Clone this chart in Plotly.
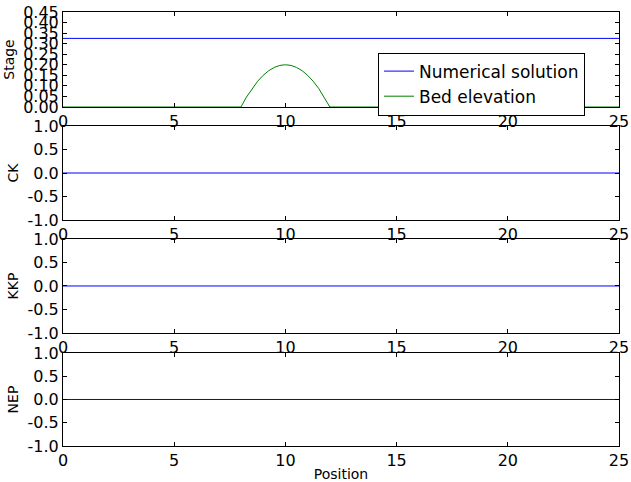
import plotly.graph_objects as go
from plotly.subplots import make_subplots

# ---- data ----
positions = [0, 25]
stage = [0.325, 0.325]
bed_x = [0, 8, 8.25, 8.5, 8.75, 9, 9.25, 9.5, 9.75, 10, 10.25, 10.5, 10.75, 11, 11.25, 11.5, 11.75, 12, 25]
bed_z = [0, 0, 0.047, 0.0875, 0.122, 0.15, 0.172, 0.1875, 0.197, 0.2, 0.197, 0.1875, 0.172, 0.15, 0.122, 0.0875, 0.047, 0, 0]
ck = [0.0, 0.0]
kkp = [0.0, 0.0]
nep = [0.0, 0.0]

panel_titles = ["Stage", "CK", "KKP", "NEP"]
x_ticks = [0, 5, 10, 15, 20, 25]
stage_ticks = [0.00, 0.05, 0.10, 0.15, 0.20, 0.25, 0.30, 0.35, 0.40, 0.45]
stage_tick_text = ["0.00", "0.05", "0.10", "0.15", "0.20", "0.25", "0.30", "0.35", "0.40", "0.45"]
err_ticks = [-1.0, -0.5, 0.0, 0.5, 1.0]
err_tick_text = ["-1.0", "-0.5", "0.0", "0.5", "1.0"]

BLUE = "#0000ff"
GREEN = "#008000"
FONT = "DejaVu Sans"

fig = make_subplots(rows=4, cols=1)

fig.add_trace(go.Scatter(x=positions, y=stage, mode="lines", name="Numerical solution",
                         line=dict(color=BLUE, width=1)), row=1, col=1)
fig.add_trace(go.Scatter(x=bed_x, y=bed_z, mode="lines", name="Bed elevation",
                         line=dict(color=GREEN, width=1)), row=1, col=1)
for i, series in enumerate([ck, kkp, nep]):
    fig.add_trace(go.Scatter(x=positions, y=series, mode="lines", showlegend=False,
                             line=dict(color=BLUE, width=1)), row=i + 2, col=1)

domains = [[0.7811, 1.0], [0.5207, 0.7373], [0.2604, 0.4770], [0.0, 0.2143]]

axis_common = dict(showline=True, linecolor="black", linewidth=1, mirror="ticks",
                   ticks="inside", ticklen=4, tickcolor="black", tickwidth=1,
                   showgrid=False, zeroline=False, showspikes=False,
                   tickfont=dict(family=FONT, size=16, color="black"))

for i in range(4):
    xa = "xaxis" if i == 0 else f"xaxis{i+1}"
    ya = "yaxis" if i == 0 else f"yaxis{i+1}"
    xkw = dict(axis_common, range=[0, 25], tickvals=x_ticks, ticktext=[str(t) for t in x_ticks],
               domain=[0, 1], automargin=False)
    if i == 3:
        xkw["title"] = dict(text="Position", font=dict(family=FONT, size=14, color="black"), standoff=0)
    fig.layout[xa].update(xkw)
    if i == 0:
        ykw = dict(axis_common, range=[0, 0.45], tickvals=stage_ticks, ticktext=stage_tick_text)
    else:
        ykw = dict(axis_common, range=[-1, 1], tickvals=err_ticks, ticktext=err_tick_text)
    ykw.update(domain=domains[i], automargin=False,
               title=dict(text=panel_titles[i], font=dict(family=FONT, size=14, color="black"), standoff=5))
    fig.layout[ya].update(ykw)

fig.update_layout(
    width=631, height=482,
    margin=dict(l=63, r=12, t=12, b=36),
    paper_bgcolor="white", plot_bgcolor="white",
    hovermode=False,
    font=dict(family=FONT, size=14, color="black"),
    legend=dict(x=0.5665, y=0.834, xanchor="left", yanchor="middle",
                bgcolor="white", bordercolor="black", borderwidth=1,
                font=dict(family=FONT, size=17, color="black"),
                itemwidth=30, tracegroupgap=0, entrywidth=222),
)

fig.write_html("out.html", config={"displayModeBar": False, "staticPlot": True},
               post_script="document.body.style.margin='0';document.body.style.overflow='hidden';")
